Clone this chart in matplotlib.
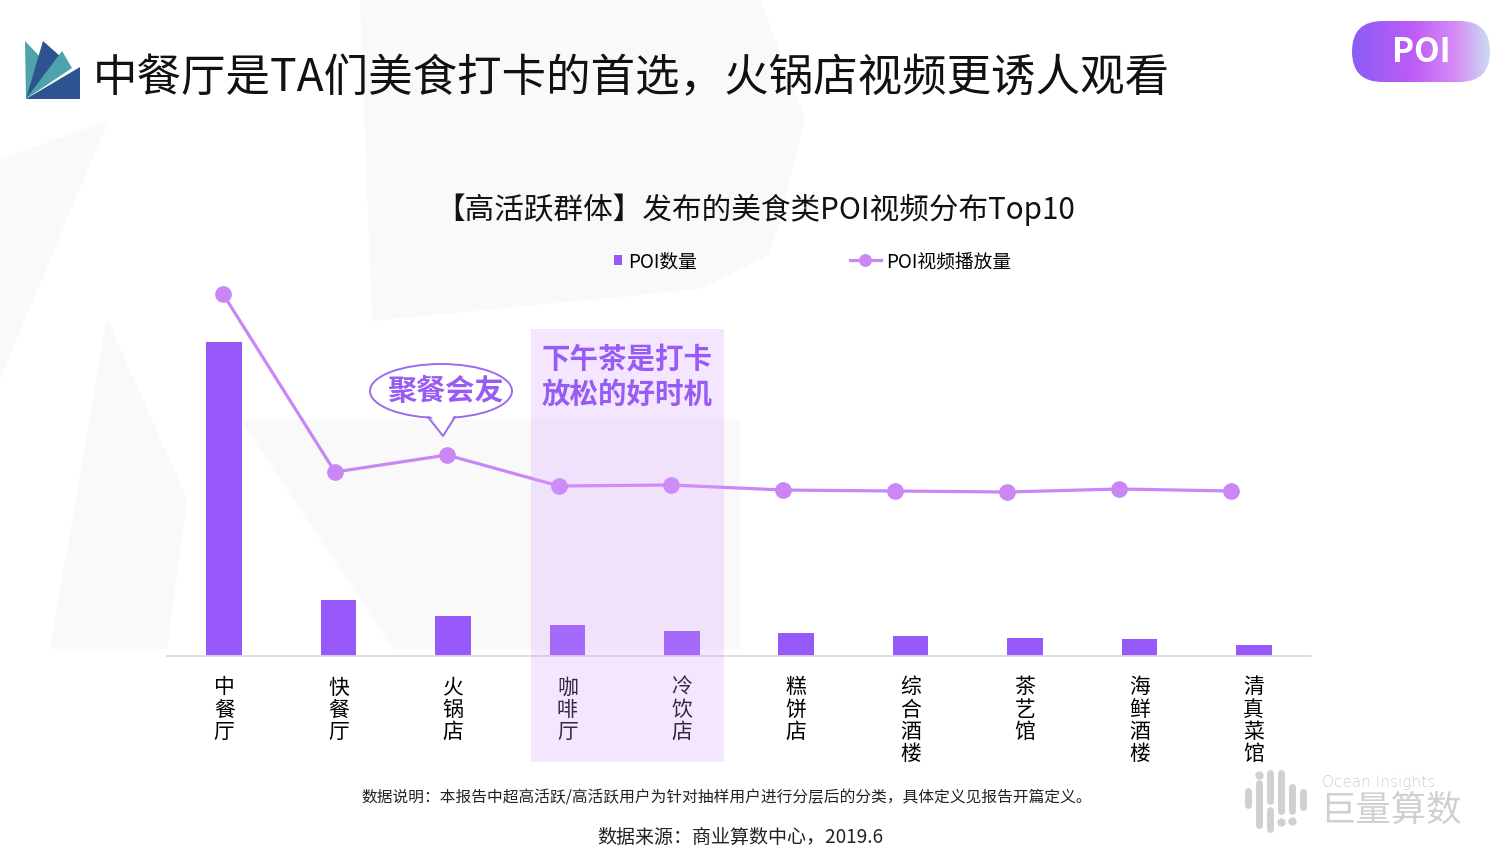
import numpy as np
import matplotlib.pyplot as plt
from matplotlib.patches import Rectangle, Ellipse, Polygon, FancyBboxPatch
from matplotlib.colors import LinearSegmentedColormap

plt.rcParams['font.family'] = ['Noto Sans CJK SC', 'DejaVu Sans']

# =============================================================================
# data (arbitrary units)
# =============================================================================
categories = ['中餐厅', '快餐厅', '火锅店', '咖啡厅', '冷饮店',
              '糕饼店', '综合酒楼', '茶艺馆', '海鲜酒楼', '清真菜馆']
poi_count = [314, 56, 40, 31, 25, 23, 20, 18, 17, 11]
video_plays = [362, 184, 201, 170, 171, 166, 165, 164, 167, 165]

title = '中餐厅是TA们美食打卡的首选，火锅店视频更诱人观看'
subtitle = '【高活跃群体】发布的美食类POI视频分布Top10'
note = '数据说明：本报告中超高活跃/高活跃用户为针对抽样用户进行分层后的分类，具体定义见报告开篇定义。'
source = '数据来源：商业算数中心，2019.6'

bar_color = '#9759FA'
line_color = '#CB86F6'
accent = '#985CF4'

W, H = 1506, 854
fig = plt.figure(figsize=(W / 100, H / 100), dpi=100)


def box(x0, y0, x1, y1):
    '''pixel box (top-left origin) -> figure rect'''
    return [x0 / W, 1 - y1 / H, (x1 - x0) / W, (y1 - y0) / H]


def canvas(z):
    c = fig.add_axes([0, 0, 1, 1], zorder=z)
    c.set_xlim(0, W)
    c.set_ylim(H, 0)
    c.axis('off')
    c.patch.set_alpha(0)
    return c


# =============================================================================
# background canvas
# =============================================================================
bg = canvas(0)
grey = '#F9F9F9'
bg.add_patch(Polygon([(360, 0), (760, 0), (805, 120), (770, 255), (700, 290), (372, 322)],
                     fc=grey, ec='none'))
bg.add_patch(Polygon([(0, 160), (108, 122), (0, 380)], fc=grey, ec='none'))
bg.add_patch(Polygon([(107, 320), (50, 650), (167, 650), (187, 500)], fc=grey, ec='none'))
bg.add_patch(Polygon([(240, 420), (740, 420), (740, 650), (393, 650)], fc=grey, ec='none'))

# logo top-left
bg.add_patch(Polygon([(25, 42), (44, 62), (26, 100)], fc='#4FA3AA', ec='none'))
bg.add_patch(Polygon([(43, 42), (61, 58), (26, 100)], fc='#2E5391', ec='none'))
bg.add_patch(Polygon([(62, 52), (72, 69), (26, 100)], fc='#4FA3AA', ec='none'))
bg.add_patch(Polygon([(80, 68), (80, 100), (26, 100)], fc='#2E5391', ec='none'))

bg.text(93, 78, title, fontsize=32, va='center', ha='left', color='#111111')
bg.text(755, 210, subtitle, fontsize=21.3, va='center', ha='center', color='#111111')
bg.text(727, 798, note, fontsize=11.3, va='center', ha='center', color='#222222')
bg.text(740, 837, source, fontsize=13.7, va='center', ha='center', color='#222222')

# bottom-right brand mark
lg = '#D0D0D0'
for xx, y0, y1 in [(1248, 792, 806), (1259, 784, 826), (1270, 774, 802), (1270, 811, 830),
                   (1281, 774, 812), (1292, 788, 812), (1303, 793, 808)]:
    bg.plot([xx, xx], [y0, y1], color=lg, lw=5, solid_capstyle='round')
for xx, yy in [(1259, 776), (1281, 823), (1292, 822)]:
    bg.plot(xx, yy, 'o', color=lg, ms=5)
bg.text(1322, 783, 'Ocean Insights', fontsize=11, va='center', ha='left',
        color='#CFCFCF', family='DejaVu Sans', fontweight='light')
bg.text(1320, 811, '巨量算数', fontsize=25.5, va='center', ha='left', color='#D0D0D0')

# =============================================================================
# chart
# =============================================================================
x = np.arange(len(categories))

ax = fig.add_axes(box(167, 280, 1311, 657), zorder=1)
ax.patch.set_alpha(0)
bars = ax.bar(x, poi_count, width=0.31, color=bar_color, label='POI数量')
ax.set_xlim(-0.5, 9.5)
ax.set_ylim(0, 377)
for s in ['top', 'right', 'left']:
    ax.spines[s].set_visible(False)
ax.spines['bottom'].set_color('#DADADA')
ax.spines['bottom'].set_linewidth(1.3)
ax.set_yticks([])
ax.set_xticks(x, ['\n'.join(c) for c in categories], fontsize=15)
ax.tick_params(axis='x', length=0, pad=14)
for lab in ax.get_xticklabels():
    lab.set_linespacing(1.02)

ax2 = fig.add_axes(box(167, 280, 1287, 657), zorder=2)
ax2.axis('off')
ax2.patch.set_alpha(0)
ax2.set_xlim(-0.5, 9.5)
ax2.set_ylim(0, 377)
ax2.plot(x, video_plays, color=line_color, lw=2.3, marker='o', ms=11,
         label='POI视频播放量', clip_on=False)

ax.legend(loc='center left', bbox_to_anchor=(614 / W, 1 - 262 / H),
          bbox_transform=fig.transFigure, frameon=False, fontsize=13.5,
          handlelength=0.45, handleheight=0.45, handletextpad=0.3,
          borderpad=0, borderaxespad=0)
ax2.legend(loc='center left', bbox_to_anchor=(850 / W, 1 - 262 / H),
           bbox_transform=fig.transFigure, frameon=False, fontsize=13.5,
           handlelength=1.65, handletextpad=0.25, markerscale=0.75,
           borderpad=0, borderaxespad=0)

# =============================================================================
# foreground annotations
# =============================================================================
fg = canvas(3)
fg.add_patch(Rectangle((531, 330), 193, 433, fc='#D39FFE', alpha=0.25, lw=0))
fg.text(542, 360, '下午茶是打卡', fontsize=20.5, fontweight='bold', color=accent,
        va='center', ha='left')
fg.text(542, 395, '放松的好时机', fontsize=20.5, fontweight='bold', color=accent,
        va='center', ha='left')

bub = '#9B6BF0'
fg.add_patch(Ellipse((441, 392), 142, 54, fc='white', ec=bub, lw=1.4))
fg.add_patch(Polygon([(429, 414), (443, 436), (455, 414)], fc='white', ec='none'))
fg.plot([428, 443, 455], [418, 437, 418], color=bub, lw=1.4)
fg.text(445, 391, '聚餐会友', fontsize=21, fontweight='bold', color=accent,
        va='center', ha='center')

# POI pill with gradient
pax = fig.add_axes(box(1352, 22, 1490, 83), zorder=4)
pax.set_xlim(0, 138)
pax.set_ylim(0, 61)
pax.axis('off')
cmap = LinearSegmentedColormap.from_list(
    'pill', [(0, '#8B5CF6'), (0.45, '#BD5DF6'), (0.75, '#D58CF5'), (1, '#C9DCF3')])
grad = np.linspace(0, 1, 256).reshape(1, -1)
img = pax.imshow(grad, cmap=cmap, extent=[0, 138, 0, 61], aspect='auto')
clip = FancyBboxPatch((0, 0), 138, 61, boxstyle='round,pad=0,rounding_size=30.5',
                      transform=pax.transData, fc='none', ec='none')
pax.add_patch(clip)
img.set_clip_path(clip)
pax.text(69, 31, 'POI', fontsize=24, fontweight='bold', color='white',
         va='center', ha='center')

fig.savefig('out.png', dpi=100)
